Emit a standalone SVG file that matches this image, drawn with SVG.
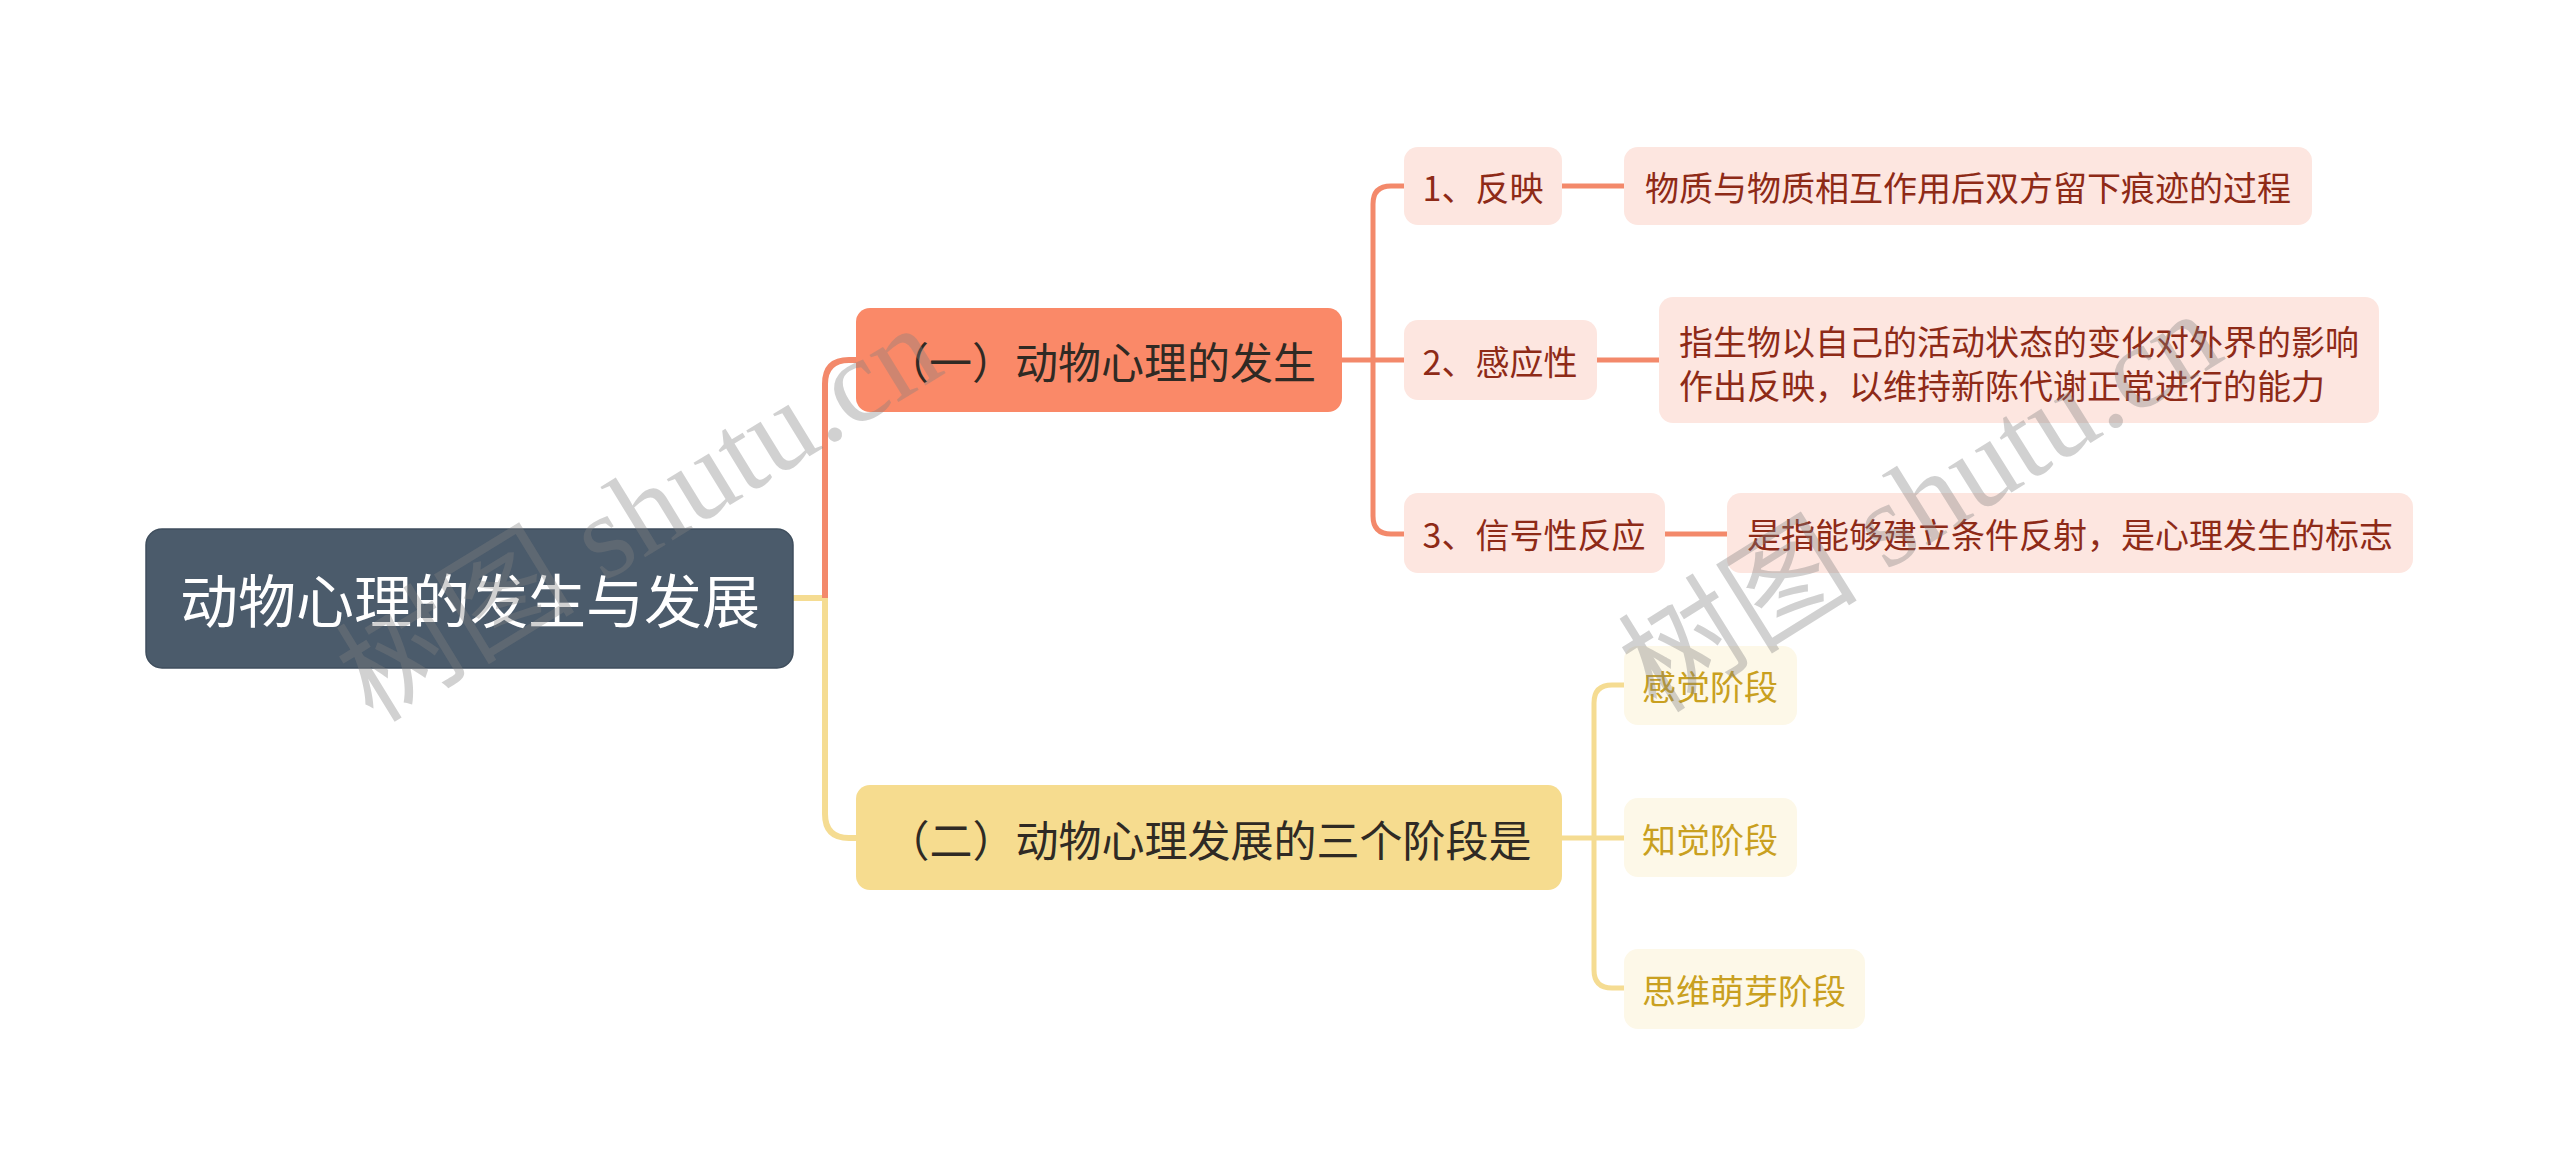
<svg xmlns="http://www.w3.org/2000/svg" width="2560" height="1175" viewBox="0 0 2560 1175">
<style>
.t{font-family:"Noto Sans CJK SC","Noto Sans",sans-serif;dominant-baseline:central;text-anchor:middle}
.root rect{fill:#4b5b6b;stroke:#3f4e5d;stroke-width:1.5}
.root text{fill:#ffffff;font-size:58px}
.b1 rect{fill:#fa8968}
.b2 rect{fill:#f6dc8f}
.b text{fill:#2f2a24;font-size:43px}
.c rect{fill:#fde6e0}
.c text{fill:#8e2a17;font-size:34px}
.y rect{fill:#fdf8e8}
.y text{fill:#c9a020;font-size:34px}
.lo{fill:none;stroke:#f3896b;stroke-width:6}
.ly{fill:none;stroke:#f5dc92;stroke-width:6}
.so{fill:none;stroke:#f3896b;stroke-width:5}
.sy{fill:none;stroke:#f5dc92;stroke-width:5}
.wm{font-family:"Liberation Serif","Noto Sans CJK SC",serif;font-size:120px;fill:#808080;fill-opacity:0.36}
</style>
<rect width="2560" height="1175" fill="#ffffff"/>
<g id="connectors">
  <path class="ly" d="M793,598 H825"/>
  <path class="lo" d="M825,598 V384 Q825,360 849,360 H857"/>
  <path class="ly" d="M825,598 V814 Q825,838 849,838 H857"/>
  <path class="so" d="M1342,360 H1405"/>
  <path class="so" d="M1373,360 V204 Q1373,186 1391,186 H1405"/>
  <path class="so" d="M1373,360 V516 Q1373,534 1391,534 H1405"/>
  <path class="so" d="M1562,186 H1625"/>
  <path class="so" d="M1597,360 H1660"/>
  <path class="so" d="M1665,534 H1728"/>
  <path class="sy" d="M1562,838 H1625"/>
  <path class="sy" d="M1594,838 V703 Q1594,685 1612,685 H1625"/>
  <path class="sy" d="M1594,838 V970 Q1594,988 1612,988 H1625"/>
</g>
<g id="root" class="root">
  <rect x="146" y="529" width="647" height="139" rx="16"/>
  <text class="t" x="470" y="598">动物心理的发生与发展</text>
</g>
<g id="branch1" class="b b1">
  <rect x="856" y="308" width="486" height="104" rx="14"/>
  <text class="t" x="1101" y="360">（一）动物心理的发生</text>
</g>
<g id="branch2" class="b b2">
  <rect x="856" y="785" width="706" height="105" rx="14"/>
  <text class="t" x="1209" y="838">（二）动物心理发展的三个阶段是</text>
</g>
<g id="c1" class="c">
  <rect x="1404" y="147" width="158" height="78" rx="14"/>
  <text class="t" x="1483" y="186">1、反映</text>
</g>
<g id="c2" class="c">
  <rect x="1404" y="320" width="193" height="80" rx="14"/>
  <text class="t" x="1500" y="360">2、感应性</text>
</g>
<g id="c3" class="c">
  <rect x="1404" y="493" width="261" height="80" rx="14"/>
  <text class="t" x="1534" y="533">3、信号性反应</text>
</g>
<g id="l1" class="c">
  <rect x="1624" y="147" width="688" height="78" rx="14"/>
  <text class="t" x="1968" y="186">物质与物质相互作用后双方留下痕迹的过程</text>
</g>
<g id="l2" class="c">
  <rect x="1659" y="297" width="720" height="126" rx="14"/>
  <text class="t" x="1679" y="340" style="text-anchor:start">指生物以自己的活动状态的变化对外界的影响</text>
  <text class="t" x="1679" y="384" style="text-anchor:start">作出反映，以维持新陈代谢正常进行的能力</text>
</g>
<g id="l3" class="c">
  <rect x="1727" y="493" width="686" height="80" rx="14"/>
  <text class="t" x="2070" y="533">是指能够建立条件反射，是心理发生的标志</text>
</g>
<g id="y1" class="y">
  <rect x="1624" y="646" width="173" height="79" rx="14"/>
  <text class="t" x="1710" y="685">感觉阶段</text>
</g>
<g id="y2" class="y">
  <rect x="1624" y="798" width="173" height="79" rx="14"/>
  <text class="t" x="1710" y="838">知觉阶段</text>
</g>
<g id="y3" class="y">
  <rect x="1624" y="949" width="241" height="80" rx="14"/>
  <text class="t" x="1744" y="989">思维萌芽阶段</text>
</g>
<g id="watermarks">
  <text class="wm" text-anchor="middle" transform="translate(660,548) rotate(-31.5)">树图 shutu.cn</text>
  <text class="wm" text-anchor="middle" transform="translate(1942,536) rotate(-32)">树图 shutu.cn</text>
</g>
</svg>
